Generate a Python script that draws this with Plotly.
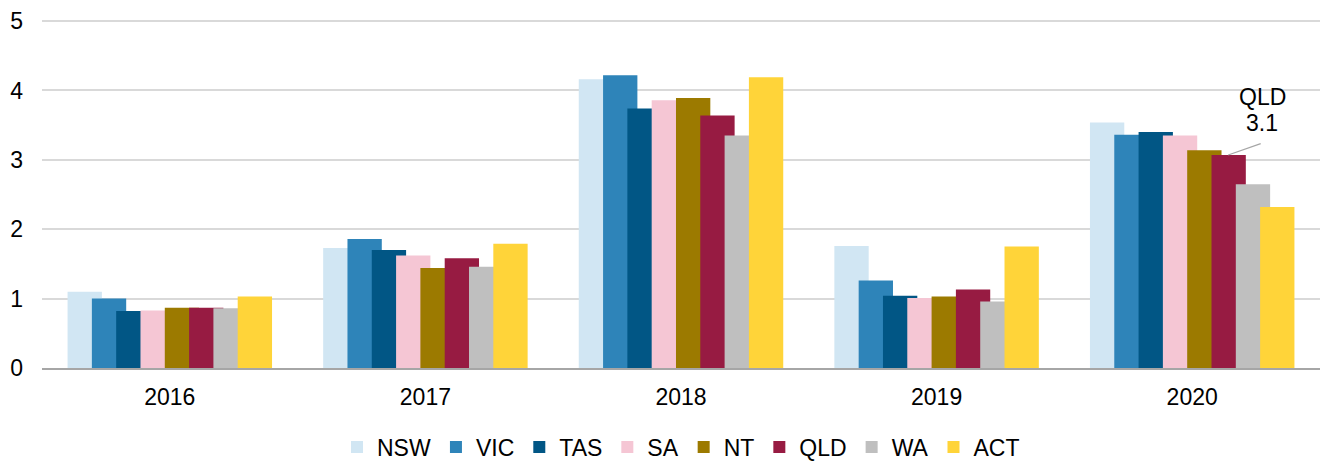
import plotly.graph_objects as go

years = ["2016", "2017", "2018", "2019", "2020"]
states = ["NSW", "VIC", "TAS", "SA", "NT", "QLD", "WA", "ACT"]
colors = ["#D1E6F3", "#2E84B9", "#015685", "#F5C6D4", "#9C7A00", "#971B42", "#BFBFBF", "#FFD439"]

NSW = [1.10, 1.73, 4.16, 1.76, 3.54]
VIC = [1.00, 1.86, 4.22, 1.26, 3.36]
TAS = [0.82, 1.70, 3.74, 1.04, 3.40]
SA = [0.83, 1.62, 3.86, 1.01, 3.35]
NT = [0.87, 1.44, 3.89, 1.03, 3.14]
QLD = [0.87, 1.58, 3.64, 1.13, 3.07]
WA = [0.86, 1.46, 3.35, 0.96, 2.65]
ACT = [1.03, 1.79, 4.19, 1.75, 2.32]

series = [NSW, VIC, TAS, SA, NT, QLD, WA, ACT]

FONT = "Arial, Liberation Sans, sans-serif"
FS = 23

# overlapping clustered bars (Excel style): the group spans 80% of a category
GROUP = 0.8
STEP = 0.0951
BAR_W = GROUP - STEP * (len(states) - 1)

fig = go.Figure()
for i, (name, vals, col) in enumerate(zip(states, series, colors)):
    fig.add_trace(go.Bar(x=years, y=vals, name=name,
                         width=BAR_W, offset=-GROUP / 2 + i * STEP,
                         marker=dict(color=col, line=dict(width=0))))

# callout for QLD 2020 (category axis: use the category's index)
idx = years.index("2020")
fig.add_annotation(x=idx, y=QLD[idx], xref="x", yref="y", text="", showarrow=True,
                   arrowhead=0, arrowwidth=1.3, arrowcolor="#A6A6A6",
                   xshift=36, ax=34, ay=-12, font=dict(size=1))
fig.add_annotation(x=idx, y=QLD[idx], xref="x", yref="y", text="QLD", showarrow=False,
                   xshift=70, yshift=58, yanchor="middle",
                   font=dict(family=FONT, size=FS, color="#000000"))
fig.add_annotation(x=idx, y=QLD[idx], xref="x", yref="y", text="%.1f" % QLD[idx], showarrow=False,
                   xshift=70, yshift=32, yanchor="middle",
                   font=dict(family=FONT, size=FS, color="#000000"))

fig.update_layout(
    width=1323, height=462,
    margin=dict(l=42, r=3, t=19, b=94),
    paper_bgcolor="white", plot_bgcolor="white",
    barmode="overlay",
    font=dict(family=FONT, size=FS, color="#000000"),
    showlegend=True,
    legend=dict(orientation="h", x=0.5, xanchor="center",
                yref="container", y=1 - 447 / 462, yanchor="middle",
                font=dict(family=FONT, size=FS, color="#000000"), itemwidth=30,
                traceorder="normal"),
    xaxis=dict(type="category", automargin=False, showgrid=False, showline=True,
               linecolor="#A6A6A6", linewidth=1.5, ticks="", ticklabelstandoff=8,
               tickfont=dict(size=FS)),
    yaxis=dict(range=[0, 5.03], tickvals=[0, 1, 2, 3, 4, 5], automargin=False, showgrid=True,
               gridcolor="#D9D9D9", gridwidth=1.5, zeroline=False, showline=False, ticks="",
               ticklabelstandoff=18, tickfont=dict(size=FS)),
)

fig.write_html("out.html", config={"displayModeBar": False},
               post_script="document.body.style.margin='0px';document.body.style.overflow='hidden';")
